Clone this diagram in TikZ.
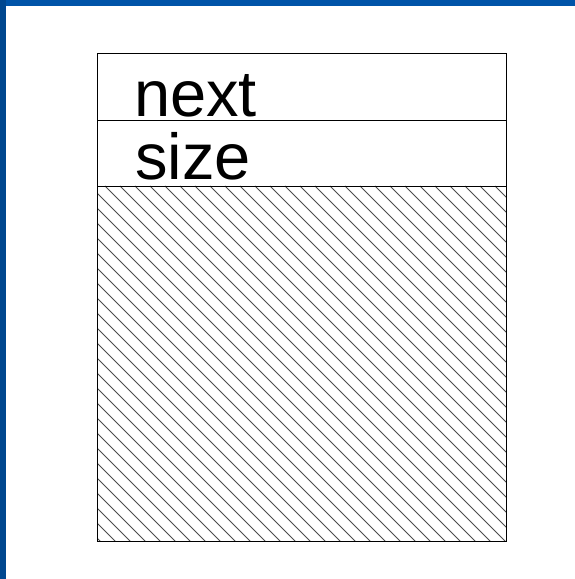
\documentclass[tikz,border=0pt]{standalone}
\usepackage{fontspec}
\setmainfont{Liberation Sans}
\definecolor{frameblue}{RGB}{0,84,168}
\tikzset{
  cellbox/.style={draw=black, line width=1.1pt, rectangle, inner sep=0pt, anchor=north west},
  label/.style={font=\fontsize{65}{65}\selectfont, inner sep=0pt, anchor=base west},
  hatchline/.style={draw=black!70, line width=1pt}
}
\begin{document}
\begin{tikzpicture}[x=1pt,y=1pt]
\useasboundingbox (0,0) rectangle (575,579);
\fill[white] (0,0) rectangle (575,579);
% blue frame bars
\fill[frameblue] (0,573) rectangle (575,579);
\fill[frameblue!85!black] (0,0) rectangle (6,579);
% hatched body
\begin{scope}
  \clip (97,38) rectangle (506,393);
  \foreach \k in {-30,...,30} {
    \draw[hatchline] (105+15*\k,393) -- (105+15*\k+400,-7);
  }
\end{scope}
% cells
\node[cellbox, minimum width=409pt, minimum height=67pt] (nextcell) at (97,526) {};
\node[cellbox, minimum width=409pt, minimum height=66pt] (sizecell) at (97,459) {};
\node[cellbox, minimum width=409pt, minimum height=355pt] (body) at (97,393) {};
% texts
\node[label] (nexttext) at (134,462) {next};
\node[label] (sizetext) at (135,399) {size};
\end{tikzpicture}
\end{document}
